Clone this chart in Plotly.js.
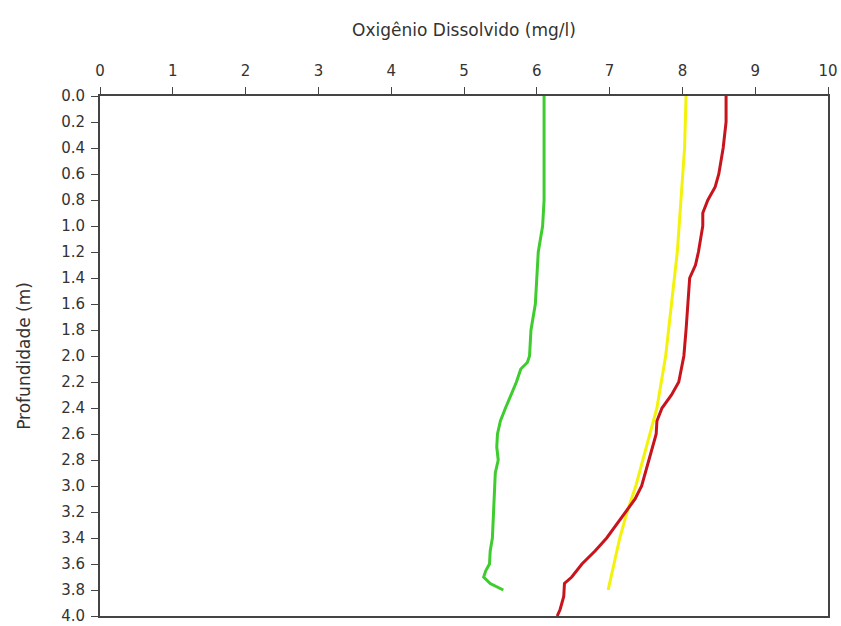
<!DOCTYPE html>
<html><head><meta charset="utf-8">
<script src="https://cdn.plot.ly/plotly-3.0.1.min.js"></script>
<style>html,body{margin:0;padding:0;background:#fff}#chart{width:841px;height:626px}</style>
</head><body><div id="chart"></div>
<script>
// Green profile
const greenDepth = [0.0,0.2,0.4,0.6,0.8,1.0,1.2,1.4,1.6,1.8,2.0,2.05,2.1,2.2,2.3,2.4,2.5,2.6,2.7,2.8,2.9,3.0,3.2,3.4,3.5,3.6,3.65,3.7,3.75,3.8];
const greenDO    = [6.10,6.10,6.10,6.11,6.10,6.08,6.02,6.00,5.98,5.92,5.90,5.87,5.78,5.72,5.64,5.57,5.50,5.46,5.45,5.47,5.43,5.42,5.41,5.39,5.36,5.35,5.30,5.27,5.36,5.54];
// Yellow profile
const yellowDepth = [0.0,0.4,0.8,1.2,1.6,2.0,2.4,2.6,2.8,3.0,3.2,3.4,3.6,3.8];
const yellowDO    = [8.05,8.03,7.98,7.93,7.85,7.77,7.65,7.55,7.45,7.36,7.24,7.14,7.06,6.98];
// Red profile
const redDepth = [0.0,0.2,0.4,0.6,0.7,0.8,0.9,1.0,1.2,1.3,1.4,1.5,1.6,1.8,2.0,2.2,2.3,2.4,2.5,2.6,2.8,3.0,3.1,3.2,3.3,3.4,3.5,3.6,3.7,3.75,3.85,3.95,4.0];
const redDO    = [8.60,8.60,8.56,8.50,8.45,8.35,8.28,8.28,8.22,8.18,8.10,8.09,8.08,8.05,8.02,7.95,7.85,7.72,7.65,7.64,7.54,7.44,7.35,7.22,7.10,6.96,6.80,6.62,6.48,6.38,6.37,6.32,6.28];

const yTicks = [0.0,0.2,0.4,0.6,0.8,1.0,1.2,1.4,1.6,1.8,2.0,2.2,2.4,2.6,2.8,3.0,3.2,3.4,3.6,3.8,4.0];
const xTicks = [0,1,2,3,4,5,6,7,8,9,10];

const traces = [
  {x: greenDO, y: greenDepth, mode:'lines', line:{color:'#3fcc2e', width:3}},
  {x: yellowDO, y: yellowDepth, mode:'lines', line:{color:'#f2f20a', width:3}},
  {x: redDO, y: redDepth, mode:'lines', line:{color:'#c8141c', width:3}}
];

const FONT = 'DejaVu Sans, Verdana, sans-serif';
const axisCommon = {showgrid:false, zeroline:false, showline:true, linecolor:'#444', linewidth:2, mirror:true,
  ticks:'outside', ticklen:7, tickcolor:'#444', tickfont:{family:FONT, size:15, color:'#333'}};

const layout = {
  width:841, height:626, showlegend:false,
  paper_bgcolor:'#fff', plot_bgcolor:'#fff',
  margin:{l:100, r:13, t:96, b:10},
  xaxis: Object.assign({}, axisCommon, {side:'top', range:[0,10], tickvals:xTicks, ticktext:xTicks.map(String),
    ticklabelstandoff:5,
    title:{text:'Oxigênio Dissolvido (mg/l)', font:{family:FONT, size:17, color:'#333'}, standoff:21}}),
  yaxis: Object.assign({}, axisCommon, {range:[4,0], tickvals:yTicks, ticktext:yTicks.map(v=>v.toFixed(1)),
    ticklabelstandoff:3,
    title:{text:'Profundidade (m)', font:{family:FONT, size:17, color:'#333'}, standoff:26}})
};

Plotly.newPlot('chart', traces, layout, {displayModeBar:false, staticPlot:true});
</script></body></html>
